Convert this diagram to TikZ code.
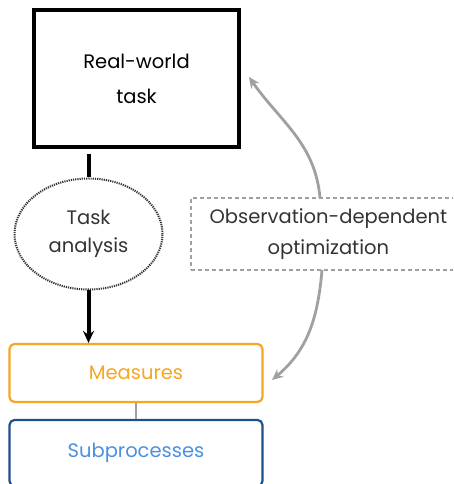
\documentclass[tikz,border=0pt]{standalone}
\usepackage{fontspec}
\setmainfont{Poppins}
\usetikzlibrary{shapes.geometric,arrows.meta}
\definecolor{orng}{HTML}{F5A623}
\definecolor{dblue}{HTML}{1F4E8C}
\definecolor{lblue}{HTML}{4A90E2}
\definecolor{gry}{HTML}{A0A0A0}
\definecolor{txt}{HTML}{333333}
\tikzset{
  lbl/.style={font=\fontsize{19.5}{30}\selectfont, align=center, inner sep=0pt},
  garrow/.style={draw=gry, line width=2.8pt, -{Stealth[length=11pt,width=10pt]}},
}
\begin{document}
\begin{tikzpicture}[x=1pt,y=1pt]
\useasboundingbox (0,0) rectangle (453,484);
\clip (0,0) rectangle (453,484);
\node[draw=black, line width=3.2pt, minimum width=205pt, minimum height=137pt, lbl, text=black] (real) at (136.5,405.5) {Real-world\\[5pt]task};
\node[ellipse, draw=txt, dash pattern=on 1.2pt off 1pt, line width=2pt, minimum width=148pt, minimum height=111pt, lbl, font=\fontsize{19.5}{28}\selectfont, text=txt] (ta) at (88.5,250) {Task\\analysis};
\node[draw=orng, line width=2.2pt, rounded corners=5pt, minimum width=253pt, minimum height=58pt, lbl, text=orng] (meas) at (136,111) {Measures};
\node[draw=dblue, line width=2.2pt, rounded corners=5pt, minimum width=253pt, minimum height=66pt, lbl, text=lblue] (sub) at (136,31) {Subprocesses};
\node[draw=gry, dash pattern=on 4pt off 3pt, line width=1.8pt, minimum width=275pt, minimum height=72pt, lbl, font=\fontsize{19.5}{31}\selectfont, text=txt, anchor=west] (obs) at (190,250) {Observation-dependent\\optimization};
\coordinate (obsT) at (320,286);
\coordinate (obsB) at (322,214);
\coordinate (realR) at (249,407);
\coordinate (measR) at (272,104);
\draw[line width=4pt, shorten <=5pt] (real.south -| ta.north) -- (ta.north);
\draw[line width=4pt, -{Stealth[length=12pt,width=11pt]}] (ta.south) -- (meas.north -| ta.south);
\draw[gry, line width=2.4pt] (meas.south) -- (sub.north);
\draw[garrow] (obsT) to[out=95, in=-55] (realR);
\draw[garrow] (obsB) to[out=-95, in=40] (measR);
\end{tikzpicture}
\end{document}
